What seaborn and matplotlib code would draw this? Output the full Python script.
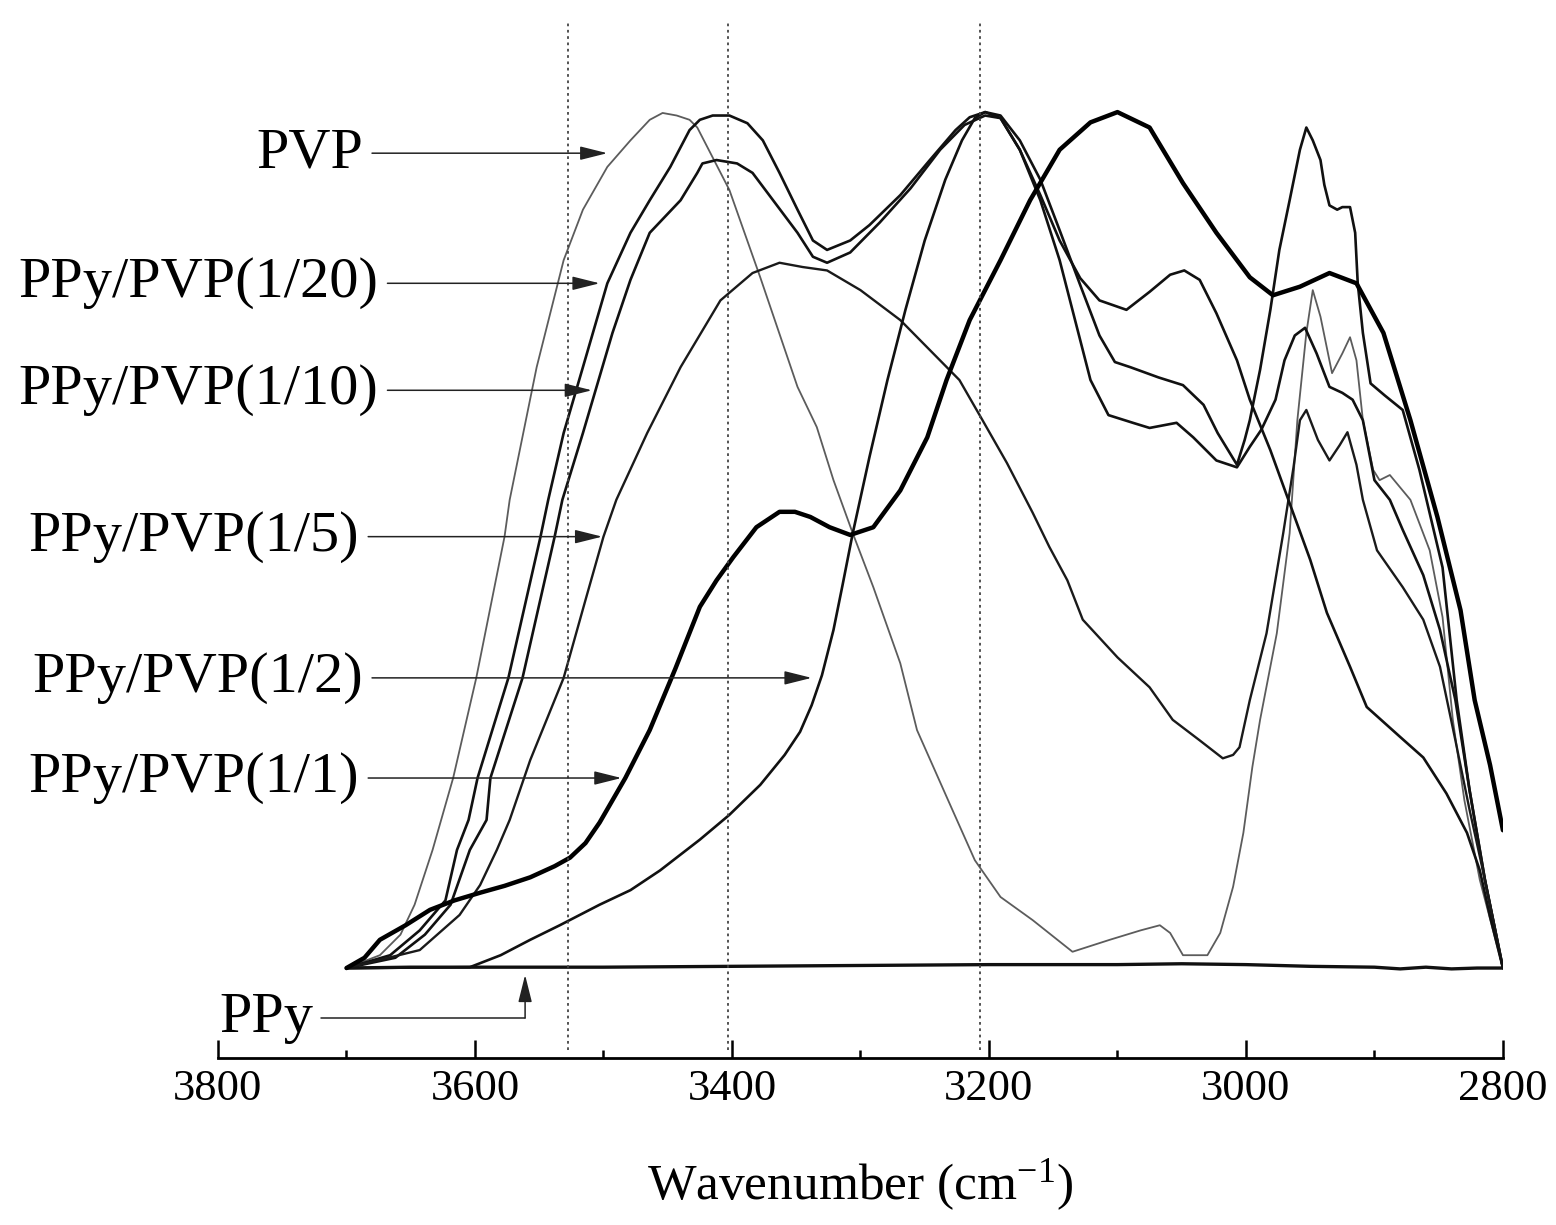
import numpy as np
import pandas as pd
import matplotlib
matplotlib.use("Agg")
import matplotlib.pyplot as plt
import seaborn as sns

# ---------------- data (wavenumber, relative intensity 0-100) ----------------
pvp_wn = [3700, 3674, 3658, 3647, 3633, 3617, 3599, 3577, 3573, 3552, 3531, 3516, 3497, 3479, 3464,
          3454, 3443, 3433, 3427, 3402, 3378, 3349, 3334, 3321, 3306, 3290, 3269, 3256, 3230, 3211,
          3191, 3166, 3135, 3106, 3082, 3067, 3059, 3049, 3030, 3020, 3010, 3002, 2995, 2989, 2976,
          2966, 2960, 2953, 2948, 2942, 2933, 2925, 2919, 2914, 2909, 2901, 2896, 2888, 2872, 2857,
          2847, 2839, 2830, 2818, 2800]
pvp_v = [0, 1.5, 3.9, 7.4, 13.8, 22.2, 33.9, 50.4, 54.7, 70.2, 82.7, 88.6, 93.6, 96.7, 99.1,
         99.9, 99.6, 99.1, 98.2, 90.9, 80.7, 67.9, 63.2, 57.0, 50.8, 44.5, 35.6, 27.8, 19.0, 12.6,
         8.3, 5.6, 1.9, 3.3, 4.4, 5.0, 4.1, 1.5, 1.5, 4.1, 9.5, 15.8, 23.5, 29.0, 39.1,
         50.8, 64.0, 74.2, 79.2, 76.1, 69.5, 71.8, 73.7, 71.0, 64.0, 58.2, 57.0, 57.6, 54.7, 48.8,
         41.0, 29.0, 19.6, 10.3, 0]

p20_wn = [3700, 3666, 3643, 3623, 3614, 3605, 3598, 3574, 3549, 3543, 3531, 3516, 3497, 3479, 3464,
          3448, 3433, 3425, 3415, 3402, 3388, 3376, 3363, 3349, 3337, 3326, 3308, 3293, 3269, 3246,
          3226, 3215, 3203, 3191, 3176, 3160, 3145, 3129, 3114, 3102, 3090, 3068, 3049, 3033, 3022,
          3007, 3001, 2997, 2989, 2981, 2974, 2966, 2958, 2953, 2948, 2942, 2939, 2935, 2929, 2925,
          2919, 2915, 2913, 2909, 2903, 2892, 2878, 2865, 2847, 2836, 2826, 2814, 2800]
p20_v = [0, 1.5, 4.4, 7.9, 13.8, 17.3, 22.2, 33.9, 50.4, 54.7, 62.5, 70.2, 80.0, 85.9, 89.7,
         93.6, 97.9, 99.1, 99.6, 99.6, 98.7, 96.7, 92.9, 88.6, 85.0, 83.9, 85.0, 86.8, 90.3, 94.4,
         97.9, 99.4, 100, 99.6, 96.7, 92.1, 86.2, 79.8, 73.9, 70.8, 70.2, 69.0, 68.1, 65.8, 62.5,
         58.8, 61.7, 64.0, 69.9, 76.9, 83.9, 89.7, 95.6, 98.2, 96.7, 94.4, 91.5, 89.1, 88.6, 88.9,
         88.9, 85.9, 80.0, 74.2, 68.3, 66.9, 65.2, 58.2, 46.8, 31.3, 20.8, 10.3, 0]

p10_wn = [3700, 3662, 3639, 3619, 3604, 3591, 3588, 3563, 3538, 3532, 3516, 3493, 3479, 3464, 3440,
          3427, 3423, 3412, 3396, 3384, 3368, 3349, 3337, 3326, 3308, 3285, 3261, 3238, 3219, 3203,
          3191, 3176, 3160, 3145, 3133, 3121, 3107, 3088, 3075, 3054, 3041, 3023, 3007, 2997, 2988,
          2977, 2970, 2962, 2954, 2945, 2935, 2925, 2917, 2909, 2900, 2888, 2878, 2862, 2849, 2837,
          2826, 2814, 2800]
p10_v = [0, 1.2, 3.9, 7.4, 13.8, 17.3, 22.2, 33.9, 50.4, 54.7, 62.5, 74.2, 80.4, 85.9, 89.7,
         92.9, 94.0, 94.4, 94.0, 92.9, 89.7, 85.9, 83.1, 82.4, 83.6, 87.1, 91.1, 95.6, 98.5, 99.6,
         99.3, 95.6, 89.7, 82.7, 75.7, 68.7, 64.6, 63.7, 63.1, 63.7, 62.0, 59.3, 58.5, 60.9, 62.9,
         66.4, 71.0, 73.9, 74.8, 71.8, 67.9, 67.2, 66.4, 64.0, 57.0, 54.7, 51.2, 45.9, 39.5, 31.3,
         20.8, 10.3, 0]

p5_wn = [3700, 3643, 3612, 3596, 3583, 3573, 3557, 3531, 3514, 3500, 3490, 3466, 3440, 3409, 3384,
         3363, 3345, 3326, 3300, 3269, 3246, 3223, 3205, 3186, 3166, 3153, 3139, 3127, 3100, 3075,
         3057, 3036, 3018, 3010, 3005, 2997, 2984, 2971, 2963, 2958, 2953, 2944, 2935, 2927, 2921,
         2914, 2909, 2898, 2878, 2862, 2849, 2837, 2826, 2814, 2800]
p5_v = [0, 2.1, 6.2, 9.7, 13.8, 17.3, 24.3, 33.9, 43.0, 50.4, 54.7, 62.5, 70.2, 78.0, 81.2,
        82.4, 81.9, 81.5, 79.2, 75.7, 72.2, 68.7, 64.0, 59.0, 53.2, 49.2, 45.3, 40.7, 36.3, 32.8,
        29.0, 26.6, 24.5, 24.9, 25.8, 31.3, 39.1, 50.8, 58.5, 64.0, 65.2, 61.7, 59.3, 61.1, 62.6,
        58.8, 54.7, 48.8, 44.5, 40.7, 35.2, 26.6, 18.5, 10.3, 0]

p2_wn = [3700, 3604, 3580, 3557, 3534, 3503, 3479, 3456, 3425, 3402, 3378, 3359, 3347, 3338, 3330,
         3321, 3314, 3306, 3293, 3279, 3265, 3250, 3234, 3221, 3211, 3203, 3191, 3176, 3160, 3145,
         3129, 3114, 3093, 3075, 3059, 3048, 3036, 3023, 3007, 2997, 2981, 2966, 2950, 2937, 2919,
         2906, 2880, 2862, 2844, 2828, 2818, 2810, 2800]
p2_v = [0, 0.1, 1.5, 3.3, 5.0, 7.4, 9.1, 11.4, 15.0, 17.9, 21.4, 24.9, 27.6, 30.7, 34.2,
        39.5, 44.7, 50.8, 59.7, 68.7, 76.9, 85.0, 92.1, 96.7, 99.3, 100, 99.3, 95.6, 90.3, 85.0,
        80.6, 78.0, 76.9, 79.0, 81.0, 81.5, 80.4, 76.5, 71.0, 66.4, 60.5, 54.3, 47.7, 41.5, 35.2,
        30.5, 27.0, 24.6, 20.4, 15.8, 11.4, 6.0, 0]

p1_wn = [3700, 3686, 3674, 3654, 3635, 3616, 3596, 3577, 3557, 3538, 3526, 3514, 3503, 3483, 3464,
         3444, 3425, 3412, 3399, 3381, 3363, 3351, 3339, 3324, 3308, 3290, 3269, 3248, 3233, 3215,
         3191, 3168, 3145, 3121, 3100, 3075, 3049, 3023, 2997, 2979, 2958, 2935, 2914, 2893, 2872,
         2851, 2833, 2822, 2810, 2800]
p1_v = [0, 1.2, 3.3, 5.0, 6.8, 7.9, 8.8, 9.6, 10.6, 11.9, 12.9, 14.6, 17.0, 22.2, 27.8,
        35.0, 42.2, 45.3, 48.0, 51.5, 53.3, 53.3, 52.7, 51.5, 50.6, 51.5, 55.8, 62.0, 68.7, 75.7,
        82.7, 89.7, 95.6, 98.8, 100, 98.2, 91.7, 85.9, 80.7, 78.6, 79.6, 81.2, 80.0, 74.2, 64.0,
        52.7, 41.8, 31.3, 23.7, 16.1]

ppy_wn = [3700, 3650, 3600, 3500, 3400, 3300, 3200, 3100, 3050, 3000, 2950, 2900, 2880, 2860, 2840, 2820, 2800]
ppy_v = [0, 0.1, 0.1, 0.1, 0.2, 0.3, 0.4, 0.4, 0.5, 0.4, 0.2, 0.1, -0.1, 0.1, -0.1, 0.0, 0.0]

# reference lines and labels
ref_lines = [3528, 3403, 3207]
x_major = [3800, 3600, 3400, 3200, 3000, 2800]
x_minor = [3700, 3500, 3300, 3100, 2900]

label_names = ["PVP", "PPy/PVP(1/20)", "PPy/PVP(1/10)", "PPy/PVP(1/5)", "PPy/PVP(1/2)", "PPy/PVP(1/1)"]
label_text_x = [3687, 3675, 3675, 3690, 3687, 3690]
label_tip_x = [3497, 3503, 3509, 3501, 3338, 3486]
label_y = [95.2, 80.0, 67.5, 50.4, 33.9, 22.2]

ppy_label = "PPy"
ppy_text_x, ppy_line_x, ppy_tip_x = 3726, 3720, 3561
ppy_label_y, ppy_tip_y = -5.84, -0.8

# ---------------- style ----------------
sns.set_theme(style="white")
plt.rcParams["font.family"] = ["Liberation Serif", "DejaVu Serif"]
plt.rcParams["mathtext.fontset"] = "custom"
plt.rcParams["mathtext.rm"] = "Liberation Serif"
plt.rcParams["mathtext.it"] = "Liberation Serif:italic"
plt.rcParams["mathtext.default"] = "regular"

fig = plt.figure(figsize=(15.56, 12.25), dpi=100)
fig.patch.set_facecolor("white")
ax = fig.add_axes([0.1401, 0.1363, 0.8258, 0.8473])
ax.set_facecolor("white")

series = [
    ("PPy", ppy_wn, ppy_v, "#111111", 2.4),
    ("PVP", pvp_wn, pvp_v, "#5c5c5c", 1.3),
    ("1/20", p20_wn, p20_v, "#111111", 1.9),
    ("1/10", p10_wn, p10_v, "#111111", 1.9),
    ("1/5", p5_wn, p5_v, "#1a1a1a", 1.7),
    ("1/2", p2_wn, p2_v, "#111111", 1.9),
    ("1/1", p1_wn, p1_v, "#000000", 3.2),
]
for name, wn, v, col, lw in series:
    df = pd.DataFrame({"wn": wn, "v": v})
    sns.lineplot(data=df, x="wn", y="v", ax=ax, color=col, linewidth=lw,
                 estimator=None, sort=False, legend=False)

for xv in ref_lines:
    ax.axvline(xv, ymin=0.0077, ymax=0.998, color="#444444", lw=1.3, ls=(0, (1.5, 2.0)))

ax.set_xlim(3800, 2800)
ax.set_ylim(-10.514, 110.75)
ax.set_xticks(x_major)
ax.set_xticks(x_minor, minor=True)
ax.set_xticklabels([str(t) for t in x_major])
ax.set_yticks([])
ax.tick_params(axis="x", which="major", direction="in", length=13, width=1.8,
               labelsize=32, pad=8, colors="black", bottom=True)
ax.tick_params(axis="x", which="minor", direction="in", length=6, width=1.8,
               colors="black", bottom=True)
for s in ["left", "right", "top"]:
    ax.spines[s].set_visible(False)
ax.spines["bottom"].set_linewidth(2.0)
ax.spines["bottom"].set_color("black")
ax.set_xlabel("Wavenumber (cm$^{-1}$)", fontsize=37, labelpad=35, color="black")
ax.set_ylabel("")

arrow_kw = dict(arrowstyle="-|>,head_length=0.4,head_width=0.1", color="#222222",
                lw=1.1, shrinkA=4, shrinkB=0)
for name, tx, tipx, yv in zip(label_names, label_text_x, label_tip_x, label_y):
    ax.annotate(name, xy=(tipx, yv), xytext=(tx, yv), xycoords="data", textcoords="data",
                ha="right", va="center", fontsize=42, color="black",
                arrowprops=dict(arrow_kw, relpos=(1.0, 0.5)), annotation_clip=False)

ax.text(ppy_text_x, ppy_label_y, ppy_label, ha="right", va="center", fontsize=42,
        color="black", clip_on=False)
ax.plot([ppy_line_x, ppy_tip_x], [ppy_label_y, ppy_label_y], color="#222222", lw=1.1,
        clip_on=False)
ax.annotate("", xy=(ppy_tip_x, ppy_tip_y), xytext=(ppy_tip_x, ppy_label_y),
            arrowprops=dict(arrow_kw, shrinkA=0, mutation_scale=42), annotation_clip=False)

fig.savefig("out.png", dpi=100)
